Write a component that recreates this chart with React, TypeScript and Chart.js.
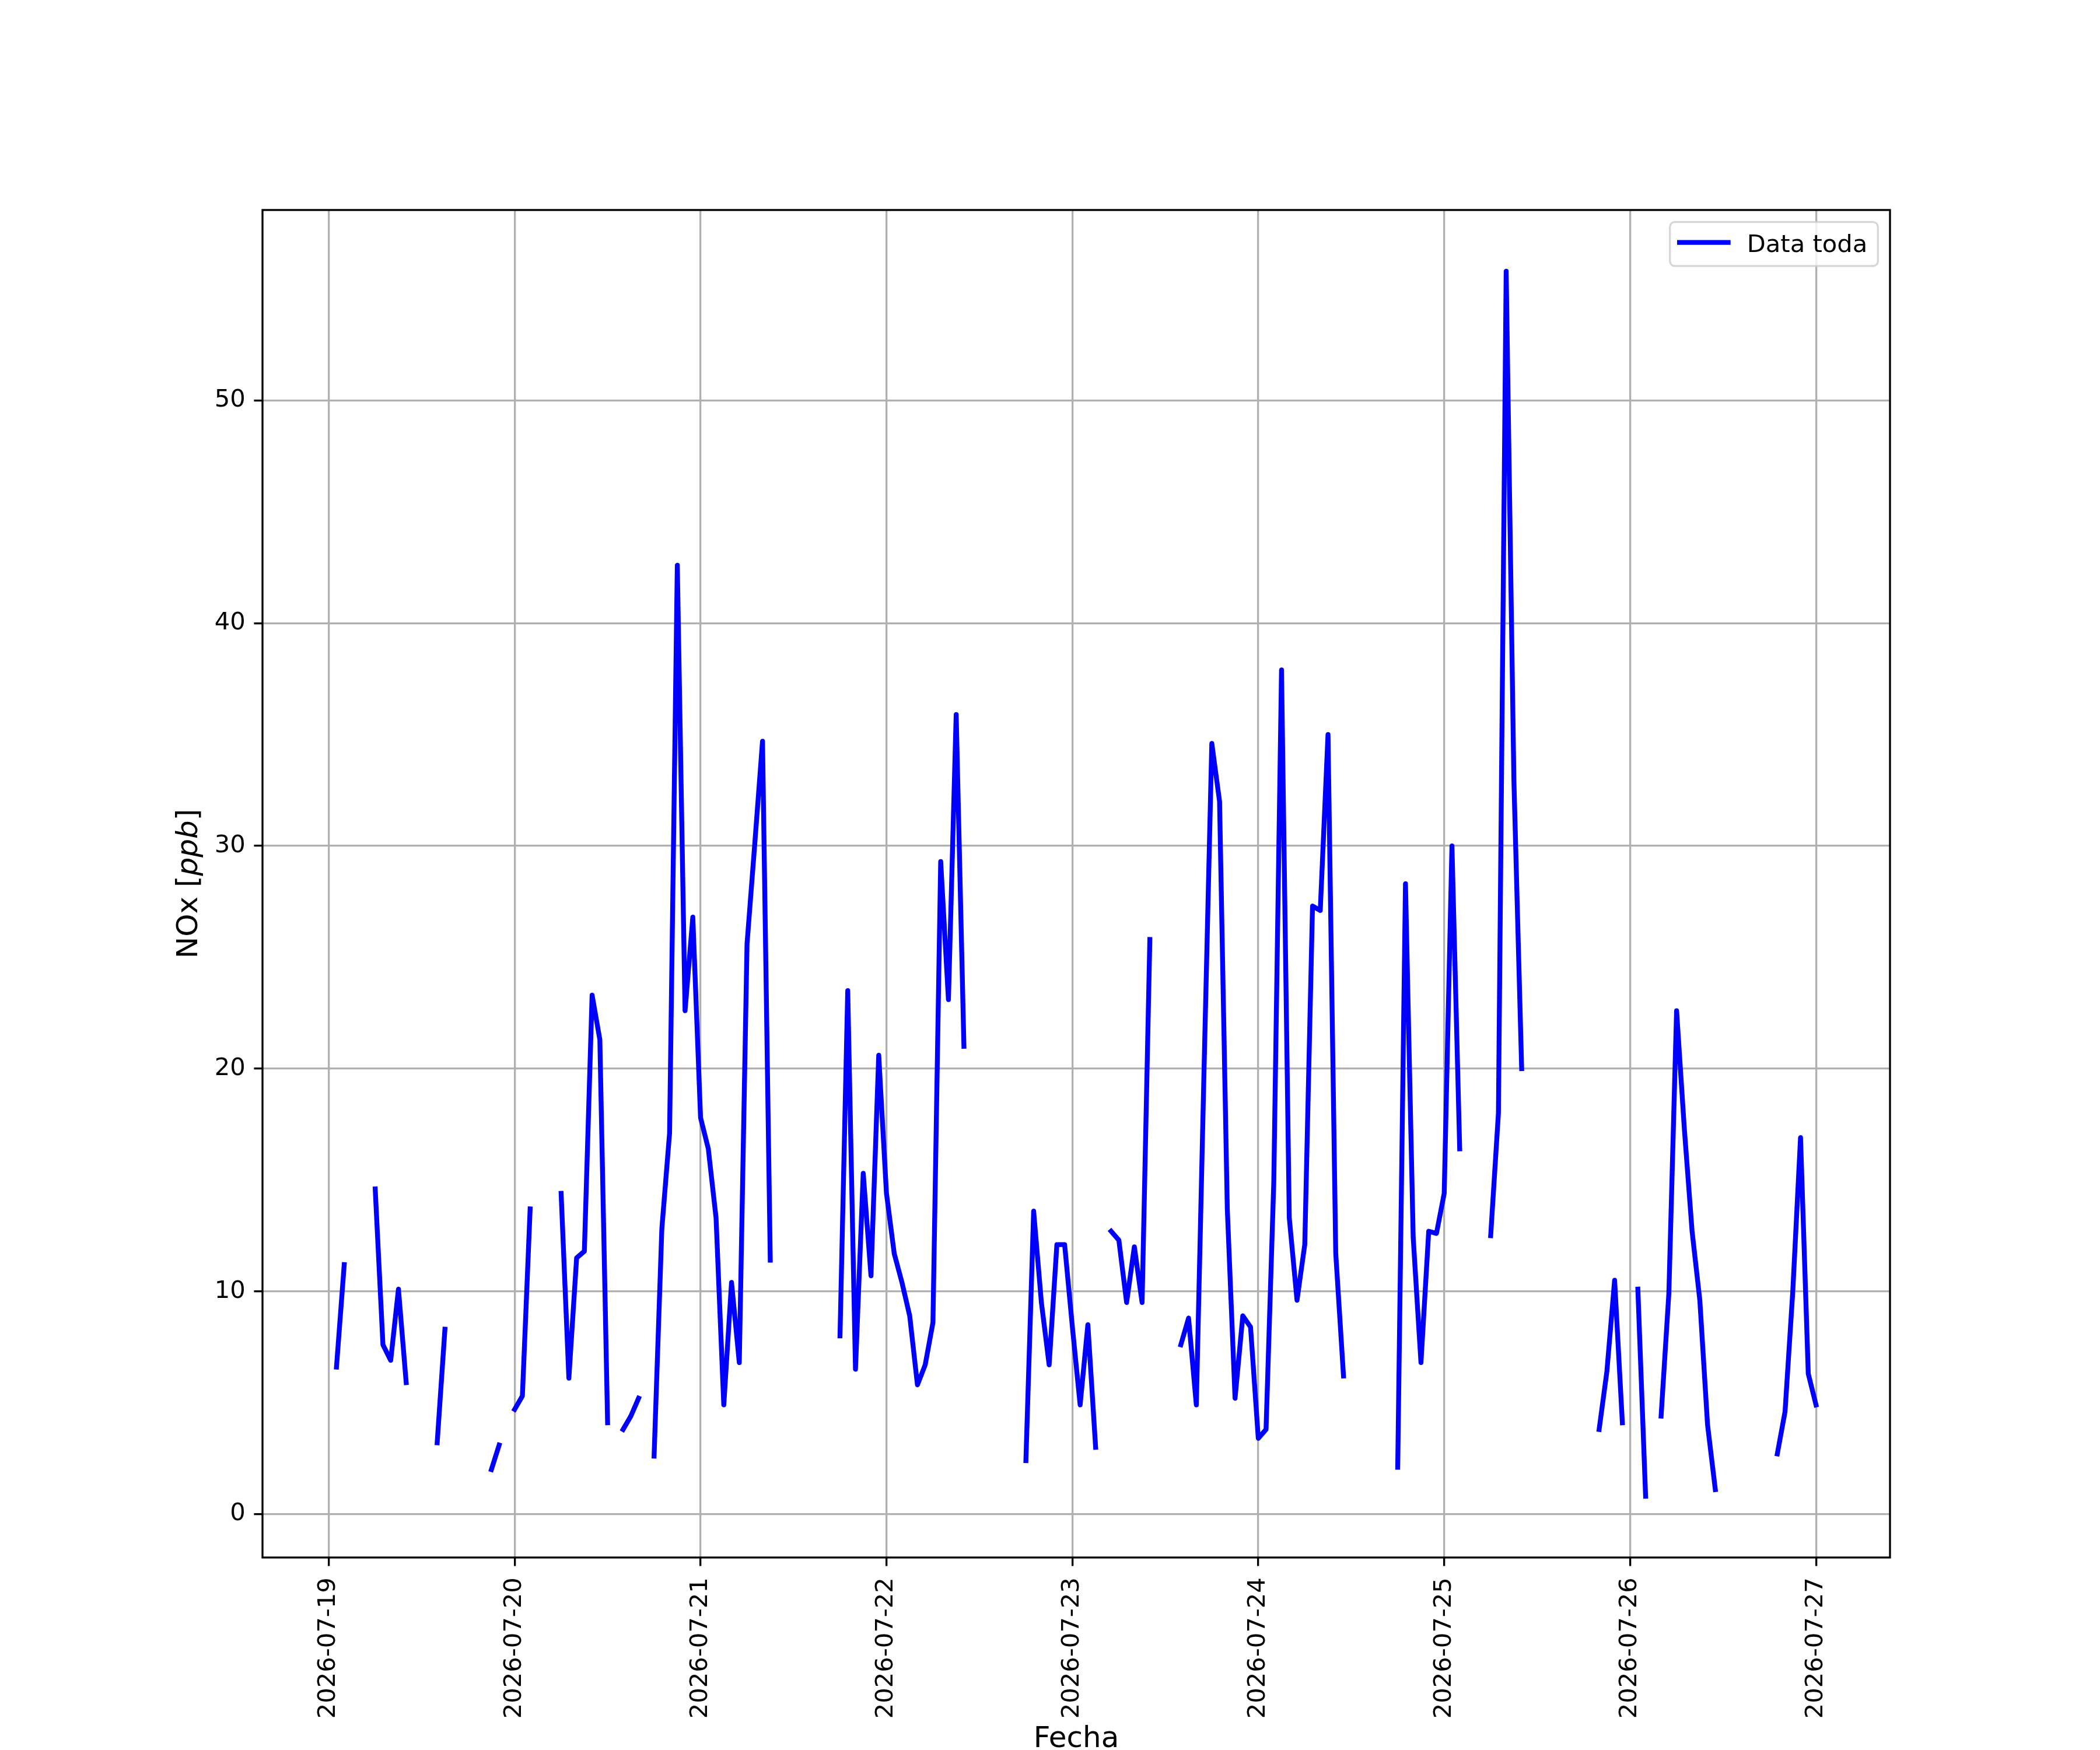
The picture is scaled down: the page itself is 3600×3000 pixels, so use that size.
import React, { useEffect, useRef } from 'react';
import { Chart, registerables } from 'chart.js';

Chart.register(...registerables);

// NOx hourly values, one array per day (index = hour of day), null = no data
const noxJul19 = [null, 6.6, 11.2, null, null, null, 14.6, 7.6, 6.9, 10.1, 5.9, null, null, null, 3.2, 8.3, null, null, null, null, null, 2.0, 3.1, null];
const noxJul20 = [4.7, 5.3, 13.7, null, null, null, 14.4, 6.1, 11.5, 11.8, 23.3, 21.3, 4.1, null, 3.8, 4.4, 5.2, null, 2.6, 12.8, 17.1, 42.6, 22.6, 26.8];
const noxJul21 = [17.8, 16.4, 13.3, 4.9, 10.4, 6.8, 25.6, 30.1, 34.7, 11.4, null, null, null, null, null, null, null, null, 8.0, 23.5, 6.5, 15.3, 10.7, 20.6];
const noxJul22 = [14.4, 11.7, 10.4, 8.9, 5.8, 6.7, 8.6, 29.3, 23.1, 35.9, 21.0, null, null, null, null, null, null, null, 2.4, 13.6, 9.5, 6.7, 12.1, 12.1];
const noxJul23 = [8.4, 4.9, 8.5, 3.0, null, 12.7, 12.3, 9.5, 12.0, 9.5, 25.8, null, null, null, 7.6, 8.8, 4.9, 20.0, 34.6, 32.0, 13.7, 5.2, 8.9, 8.4];
const noxJul24 = [3.4, 3.8, 14.9, 37.9, 13.3, 9.6, 12.1, 27.3, 27.1, 35.0, 11.7, 6.2, null, null, null, null, null, null, 2.1, 28.3, 12.4, 6.8, 12.7, 12.6];
const noxJul25 = [14.4, 30.0, 16.4, null, null, null, 12.5, 18.0, 55.8, 32.9, 20.0, null, null, null, null, null, null, null, null, null, 3.8, 6.4, 10.5, 4.1];
const noxJul26 = [null, 10.1, 0.8, null, 4.4, 9.9, 22.6, 17.3, 12.7, 9.6, 4.0, 1.1, null, null, null, null, null, null, null, 2.7, 4.6, 10.0, 16.9, 6.3];
const noxJul27 = [4.9];

const dayLabels = ['2026-07-19', '2026-07-20', '2026-07-21', '2026-07-22', '2026-07-23', '2026-07-24', '2026-07-25', '2026-07-26', '2026-07-27'];
const yTicks = [0, 10, 20, 30, 40, 50];
const seriesLabel = 'Data toda';
const yLabelParts = ['NOx [', 'ppb', ']'];
const xLabel = 'Fecha';

const FONT = 'DejaVu Sans';
const PT = 300 / 72; // px per point

const allValues: (number | null)[] = [
  ...noxJul19, ...noxJul20, ...noxJul21, ...noxJul22, ...noxJul23,
  ...noxJul24, ...noxJul25, ...noxJul26, ...noxJul27
];
const points = allValues.map((v, i) => ({ x: i, y: v }));

// matplotlib-like autoscale with 5% margins
const valid = points.filter((p) => p.y !== null) as { x: number; y: number }[];
const xLo = valid[0].x;
const xHi = valid[valid.length - 1].x;
const yLo = Math.min(...valid.map((p) => p.y));
const yHi = Math.max(...valid.map((p) => p.y));
const xPad = (xHi - xLo) * 0.05;
const yPad = (yHi - yLo) * 0.05;

// frame, legend and mixed-style y label
const decorations = {
  id: 'decorations',
  afterDraw(chart: Chart) {
    const { ctx, chartArea: a } = chart;
    ctx.save();

    ctx.strokeStyle = '#000';
    ctx.lineWidth = 0.8 * PT;
    ctx.strokeRect(a.left, a.top, a.right - a.left, a.bottom - a.top);

    // legend
    const bw = 356.6;
    const bh = 75.3;
    const bx = a.right - 20.7 - bw;
    const by = a.top + 20.7;
    ctx.beginPath();
    ctx.roundRect(bx, by, bw, bh, 8.3);
    ctx.fillStyle = 'rgba(255,255,255,0.8)';
    ctx.fill();
    ctx.strokeStyle = 'rgba(204,204,204,0.8)';
    ctx.lineWidth = 0.8 * PT;
    ctx.stroke();

    const ds = chart.data.datasets[0] as any;
    ctx.beginPath();
    ctx.moveTo(bx + 16.5, by + 35);
    ctx.lineTo(bx + 99.8, by + 35);
    ctx.strokeStyle = ds.borderColor;
    ctx.lineWidth = ds.borderWidth;
    ctx.lineCap = 'square';
    ctx.stroke();

    ctx.fillStyle = '#000';
    ctx.font = `${10 * PT}px ${FONT}`;
    ctx.textAlign = 'left';
    ctx.textBaseline = 'alphabetic';
    ctx.fillText(ds.label, bx + 132, by + 51);

    // y axis label: "NOx [" + italic "ppb" + "]"
    const size = 12 * PT;
    const fonts = [`${size}px ${FONT}`, `italic ${size}px ${FONT}`, `${size}px ${FONT}`];
    let total = 0;
    const widths = yLabelParts.map((t, i) => {
      ctx.font = fonts[i];
      const w = ctx.measureText(t).width;
      total += w;
      return w;
    });
    ctx.translate(a.left - 112, (a.top + a.bottom) / 2);
    ctx.rotate(-Math.PI / 2);
    let x = -total / 2;
    yLabelParts.forEach((t, i) => {
      ctx.font = fonts[i];
      ctx.fillText(t, x, 0);
      x += widths[i];
    });

    ctx.restore();
  }
};

const NoxChart: React.FC = () => {
  const canvasRef = useRef<HTMLCanvasElement>(null);
  const chartRef = useRef<Chart | null>(null);

  useEffect(() => {
    const ctx = canvasRef.current?.getContext('2d');
    if (!ctx) return;

    if (chartRef.current) {
      chartRef.current.destroy();
    }

    const tickFont = { family: FONT, size: 10 * PT };
    const gridOpts = {
      color: '#b0b0b0',
      lineWidth: 0.8 * PT,
      drawTicks: true,
      tickLength: 3.5 * PT,
      tickColor: '#000',
      tickWidth: 0.8 * PT
    };

    chartRef.current = new Chart(ctx, {
      type: 'line',
      data: {
        datasets: [
          {
            label: seriesLabel,
            data: points as any,
            borderColor: '#0000ff',
            borderWidth: 2 * PT,
            borderJoinStyle: 'round',
            borderCapStyle: 'square',
            pointRadius: 0,
            pointHoverRadius: 0,
            spanGaps: false,
            tension: 0,
            fill: false
          }
        ]
      },
      options: {
        animation: false,
        responsive: false,
        devicePixelRatio: 1,
        events: [],
        layout: { padding: { left: 0, right: 360, top: 360, bottom: 0 } },
        plugins: {
          legend: { display: false },
          tooltip: { enabled: false },
          title: { display: false }
        },
        scales: {
          x: {
            type: 'linear',
            min: xLo - xPad,
            max: xHi + xPad,
            border: { display: false },
            grid: gridOpts,
            afterBuildTicks: (scale: any) => {
              scale.ticks = dayLabels.map((_, i) => ({ value: i * 24 }));
            },
            afterFit: (scale: any) => {
              scale.height = 330;
            },
            ticks: {
              autoSkip: false,
              minRotation: 90,
              maxRotation: 90,
              padding: 3.5 * PT + 5,
              color: '#000',
              font: tickFont,
              callback: (_v: any, i: number) => dayLabels[i]
            },
            title: {
              display: true,
              text: xLabel,
              color: '#000',
              font: { family: FONT, size: 12 * PT, lineHeight: 1.2 },
              padding: { top: 0, bottom: -12 }
            }
          },
          y: {
            type: 'linear',
            min: yLo - yPad,
            max: yHi + yPad,
            border: { display: false },
            grid: gridOpts,
            afterBuildTicks: (scale: any) => {
              scale.ticks = yTicks.map((v) => ({ value: v }));
            },
            afterFit: (scale: any) => {
              scale.width = 450;
            },
            ticks: {
              padding: 3.5 * PT,
              color: '#000',
              font: tickFont,
              callback: (v: any) => String(v)
            }
          }
        }
      },
      plugins: [decorations]
    });

    return () => {
      if (chartRef.current) {
        chartRef.current.destroy();
        chartRef.current = null;
      }
    };
  }, []);

  return (
    <div style={{ position: 'absolute', left: 0, top: 0, width: 3600, height: 3000, background: '#fff' }}>
      <canvas ref={canvasRef} width={3600} height={3000} style={{ width: 3600, height: 3000, display: 'block' }} />
    </div>
  );
};

export default function App() {
  return <NoxChart />;
}
